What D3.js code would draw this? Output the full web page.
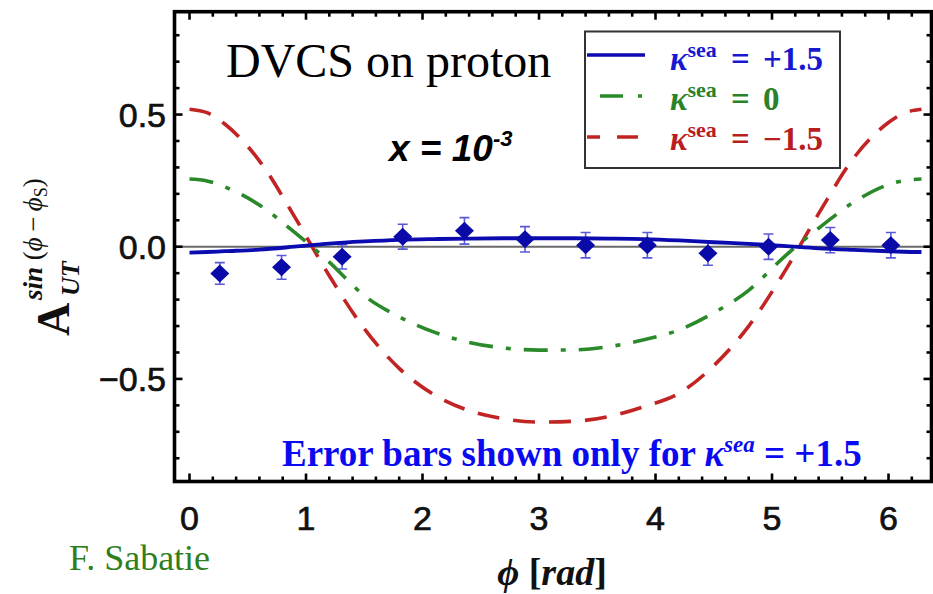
<!DOCTYPE html>
<html><head><meta charset="utf-8">
<script src="https://cdn.jsdelivr.net/npm/d3@7"></script>
<style>body{margin:0;background:#fff}svg{display:block}</style>
</head><body>
<svg id="c" width="933" height="594"></svg>
<script>
// ---- data ----
const phiGrid = [0,0.15,0.3,0.6,0.9,1.2,1.5,1.8,2.1,2.4,2.7,3.0,3.3,3.6,3.9,4.2,4.5,4.8,5.1,5.4,5.7,6.0,6.13,6.283];
const kappaPlus  = [-0.022,-0.020,-0.017,-0.011,0.000,0.012,0.020,0.026,0.029,0.031,0.032,0.032,0.032,0.031,0.029,0.024,0.017,0.011,0.003,-0.006,-0.012,-0.017,-0.019,-0.020];
const kappaZero  = [0.256,0.249,0.227,0.158,0.055,-0.058,-0.185,-0.265,-0.323,-0.362,-0.383,-0.391,-0.390,-0.378,-0.352,-0.315,-0.250,-0.165,-0.040,0.070,0.168,0.235,0.250,0.256];
const kappaMinus = [0.520,0.507,0.465,0.325,0.115,-0.110,-0.310,-0.460,-0.560,-0.620,-0.651,-0.663,-0.660,-0.642,-0.605,-0.555,-0.450,-0.300,-0.100,0.125,0.335,0.470,0.505,0.520];
const pointPhi = [0.26,0.79,1.31,1.83,2.36,2.88,3.40,3.93,4.45,4.97,5.50,6.02];
const pointVal = [-0.101,-0.078,-0.038,0.038,0.060,0.028,0.006,0.006,-0.025,0.000,0.025,0.006];
const pointErr = [0.041,0.045,0.046,0.047,0.050,0.048,0.048,0.048,0.045,0.048,0.048,0.048];
const xTickLabels = [0,1,2,3,4,5,6];
const yTickLabels = [0.5,0.0,-0.5];

const svg = d3.select("#c");
const L=174.5, R=931.5, T=11.7, B=481.5;
const x = d3.scaleLinear().domain([-0.1288, 6.369]).range([L, R]);
const y = d3.scaleLinear().domain([-0.888, 0.889]).range([B, T]);

svg.append("defs").append("clipPath").attr("id","pc")
  .append("rect").attr("x",L).attr("y",T).attr("width",R-L).attr("height",B-T);

// zero line
svg.append("line").attr("x1",L).attr("x2",R).attr("y1",y(0)).attr("y2",y(0))
  .attr("stroke","#6a6a6a").attr("stroke-width",1.8);

const line = d3.line().x(d=>x(d[0])).y(d=>y(d[1])).curve(d3.curveMonotoneX);
const g = svg.append("g").attr("clip-path","url(#pc)");
g.append("path").datum(phiGrid.map((p,i)=>[p,kappaMinus[i]])).attr("d",line)
  .attr("fill","none").attr("stroke","#c22424").attr("stroke-width",3.6).attr("stroke-dasharray","22,14");
g.append("path").datum(phiGrid.map((p,i)=>[p,kappaZero[i]])).attr("d",line)
  .attr("fill","none").attr("stroke","#2a8a2a").attr("stroke-width",3.6).attr("stroke-dasharray","24,13,5,13");

// error bars
const eb = g.append("g").attr("stroke","#5a5ad8").attr("stroke-width",1.6);
pointPhi.forEach((p,i)=>{
  const cx=x(p), y1=y(pointVal[i]+pointErr[i]), y2=y(pointVal[i]-pointErr[i]);
  eb.append("line").attr("x1",cx).attr("x2",cx).attr("y1",y1).attr("y2",y2);
  eb.append("line").attr("x1",cx-5).attr("x2",cx+5).attr("y1",y1).attr("y2",y1);
  eb.append("line").attr("x1",cx-5).attr("x2",cx+5).attr("y1",y2).attr("y2",y2);
});
// blue curve
g.append("path").datum(phiGrid.map((p,i)=>[p,kappaPlus[i]])).attr("d",line)
  .attr("fill","none").attr("stroke","#0b0bb0").attr("stroke-width",3.8);
// diamonds
g.selectAll("path.dm").data(pointPhi).enter().append("path").attr("class","dm")
  .attr("d",(p,i)=>{const cx=x(p),cy=y(pointVal[i]);return `M${cx},${cy-9}L${cx+9.5},${cy}L${cx},${cy+9}L${cx-9.5},${cy}Z`;})
  .attr("fill","#0a0aa8");

// ticks
const tk = svg.append("g").attr("stroke","#000").attr("stroke-width",2.6);
d3.range(0,32).map(i=>i*0.2).forEach(v=>{
  const major = Math.abs(v-Math.round(v))<1e-6;
  const len = major?8:5, xx=x(v);
  tk.append("line").attr("x1",xx).attr("x2",xx).attr("y1",B).attr("y2",B-len);
  tk.append("line").attr("x1",xx).attr("x2",xx).attr("y1",T).attr("y2",T+len);
});
d3.range(-8,9).map(i=>i*0.1).forEach(v=>{
  const major = Math.abs(v*2-Math.round(v*2))<1e-6;
  const len = major?8:5, yy=y(v);
  tk.append("line").attr("x1",L).attr("x2",L+len).attr("y1",yy).attr("y2",yy);
  tk.append("line").attr("x1",R).attr("x2",R-len).attr("y1",yy).attr("y2",yy);
});
// frame
svg.append("rect").attr("x",L).attr("y",T).attr("width",R-L).attr("height",B-T)
  .attr("fill","none").attr("stroke","#000").attr("stroke-width",3.6);

// tick labels
svg.selectAll("text.xl").data(xTickLabels).enter().append("text").attr("class","xl")
  .attr("x",d=>x(d)).attr("y",530).attr("text-anchor","middle")
  .attr("font-family","Liberation Sans, Arial, sans-serif").attr("font-size",34).attr("fill","#111")
  .attr("stroke","#111").attr("stroke-width",0.7)
  .text(d=>d);
svg.selectAll("text.yl").data(yTickLabels).enter().append("text").attr("class","yl")
  .attr("x",166).attr("y",d=>y(d)+12).attr("text-anchor","end")
  .attr("font-family","Liberation Sans, Arial, sans-serif").attr("font-size",34).attr("fill","#111")
  .attr("stroke","#111").attr("stroke-width",0.7)
  .text(d=>d<0?"\u2212"+Math.abs(d).toFixed(1):d.toFixed(1));

// titles
svg.append("text").attr("x",226).attr("y",77).attr("font-family","Liberation Serif, Times New Roman, serif")
  .attr("font-size",48).attr("fill","#000").text("DVCS on proton");
const xt = svg.append("text").attr("x",389).attr("y",161).attr("font-family","Liberation Sans, Arial, sans-serif")
  .attr("font-size",37).attr("font-weight","bold").attr("font-style","italic").attr("fill","#000");
xt.append("tspan").text("x = 10");
xt.append("tspan").attr("dy",-15).attr("font-size",22).text("-3");

// legend
svg.append("rect").attr("x",585).attr("y",31.5).attr("width",255).attr("height",136.5)
  .attr("fill","#fff").attr("stroke","#333").attr("stroke-width",2);
const legend = [
  {c:"#0b0bb0", tc:"#1818d0", val:"+1.5", dash:null, x1:587, x2:645},
  {c:"#2a8a2a", tc:"#2a822a", val:"0", dash:"23,15,4,100", x1:600, x2:645},
  {c:"#c22424", tc:"#b81e1e", val:"\u22121.5", dash:"13,17,21,100", x1:587, x2:645}
];
legend.forEach((d,i)=>{
  const by = 70 + i*40, ly = 55 + i*41;
  const ln = svg.append("line").attr("x1",d.x1).attr("x2",d.x2).attr("y1",ly).attr("y2",ly)
    .attr("stroke",d.c).attr("stroke-width",3.6);
  if(d.dash) ln.attr("stroke-dasharray",d.dash);
  const t = svg.append("text").attr("y",by).attr("font-family","Liberation Serif, Times New Roman, serif")
    .attr("font-weight","bold").attr("font-size",33).attr("fill",d.tc);
  t.append("tspan").attr("x",670).attr("font-style","italic").text("\u03ba");
  t.append("tspan").attr("dy",-13).attr("font-size",22).text("sea");
  t.append("tspan").attr("x",731).attr("dy",13).text("=");
  t.append("tspan").attr("x",763).text(d.val);
});

// error-bar note
const en = svg.append("text").attr("x",282).attr("y",466).attr("font-family","Liberation Serif, Times New Roman, serif")
  .attr("font-weight","bold").attr("font-size",37).attr("fill","#0a0af0");
en.append("tspan").text("Error bars shown only for ");
en.append("tspan").attr("font-style","italic").text("\u03ba");
en.append("tspan").attr("dy",-14).attr("font-size",23).attr("font-style","italic").text("sea");
en.append("tspan").attr("dy",14).text(" = +1.5");

// x axis title
const xa = svg.append("text").attr("x",552).attr("y",585).attr("text-anchor","middle")
  .attr("font-family","Liberation Serif, Times New Roman, serif").attr("font-weight","bold").attr("font-size",38).attr("fill","#111");
xa.append("tspan").attr("font-style","italic").text("\u03d5");
xa.append("tspan").text(" [");
xa.append("tspan").attr("font-style","italic").text("rad");
xa.append("tspan").text("]");

// y axis title
const ya = svg.append("g").attr("transform","translate(69,336) rotate(-90)");
ya.append("text").attr("x",0).attr("y",0).attr("font-family","Liberation Serif, Times New Roman, serif")
  .attr("font-weight","bold").attr("font-size",46).attr("fill","#111").text("A");
ya.append("text").attr("x",40).attr("y",10).attr("font-family","Liberation Serif, Times New Roman, serif")
  .attr("font-weight","bold").attr("font-style","italic").attr("font-size",26).attr("fill","#111").text("UT");
const sup = ya.append("text").attr("x",36).attr("y",-27).attr("font-family","Liberation Serif, Times New Roman, serif")
  .attr("font-size",27).attr("fill","#111");
sup.append("tspan").attr("font-weight","bold").attr("font-style","italic").text("sin");
sup.append("tspan").text(" (");
sup.append("tspan").attr("font-style","italic").text("\u03d5");
sup.append("tspan").text("\u2009\u2212\u2009");
sup.append("tspan").attr("font-style","italic").text("\u03d5");
sup.append("tspan").attr("dy",5).attr("font-size",18).text("S");
sup.append("tspan").attr("dy",-5).text(")");

// credit
svg.append("text").attr("x",69).attr("y",570).attr("font-family","Liberation Serif, Times New Roman, serif")
  .attr("font-size",36).attr("fill","#2f7f22").text("F. Sabatie");
</script>
</body></html>
